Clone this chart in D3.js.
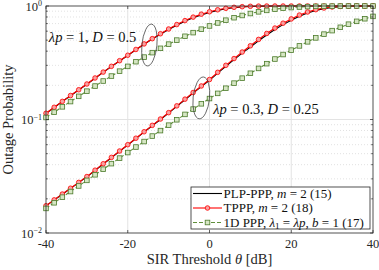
<!DOCTYPE html>
<html>
<head>
<meta charset="utf-8">
<script src="https://cdn.jsdelivr.net/npm/d3@7"></script>
<style>
  body { margin: 0; background: #fff; }
  svg { display: block; font-family: 'Liberation Serif', 'DejaVu Serif', serif; }
</style>
</head>
<body>
<svg id="chart" width="379" height="270"></svg>
<script>
// SIR threshold in dB, one point every 2 dB
var theta = [-40, -38, -36, -34, -32, -30, -28, -26, -24, -22, -20, -18, -16, -14, -12, -10,
  -8, -6, -4, -2, 0, 2, 4, 6, 8, 10, 12, 14, 16, 18, 20, 22, 24, 26, 28, 30, 32, 34, 36, 38, 40];

// lambda p = 1, D = 0.5
var plpHigh = [0.1130, 0.1276, 0.1439, 0.1620, 0.1821, 0.2047, 0.2312, 0.2605, 0.2927, 0.3280,
  0.3662, 0.4115, 0.4600, 0.5112, 0.5645, 0.6205, 0.6780, 0.7340, 0.7870, 0.8355, 0.8780,
  0.9150, 0.9445, 0.9660, 0.9805, 0.9895, 0.9950, 0.9978, 0.9991, 0.9997, 0.9999,
  1, 1, 1, 1, 1, 1, 1, 1, 1, 1];
var tpppHigh = [0.1135, 0.1281, 0.1444, 0.1626, 0.1828, 0.2055, 0.2322, 0.2617, 0.2941, 0.3297,
  0.3682, 0.4141, 0.4633, 0.5154, 0.5697, 0.6271, 0.6862, 0.7436, 0.7981, 0.8473, 0.8901,
  0.9262, 0.9539, 0.9735, 0.9862, 0.9936, 0.9975, 0.9991, 0.9997, 0.9999,
  1, 1, 1, 1, 1, 1, 1, 1, 1, 1, 1];
var ppp1dHigh = [0.1042, 0.1161, 0.1293, 0.1439, 0.1600, 0.1777, 0.1971, 0.2183, 0.2414, 0.2666,
  0.2938, 0.3231, 0.3546, 0.3882, 0.4238, 0.4613, 0.5005, 0.5410, 0.5826, 0.6248, 0.6671,
  0.7089, 0.7497, 0.7887, 0.8251, 0.8586, 0.8886, 0.9148, 0.9369, 0.9549, 0.9691,
  0.9798, 0.9875, 0.9927, 0.9960, 0.9979, 0.9990, 0.9996, 0.9998, 0.9999, 1];

// lambda p = 0.3, D = 0.25
var plpLow = [0.01735, 0.01952, 0.02195, 0.02470, 0.02778, 0.03126, 0.03556, 0.04050, 0.04608, 0.05240,
  0.05955, 0.06790, 0.07735, 0.08805, 0.1001, 0.1138, 0.1305, 0.1494, 0.1707, 0.1948, 0.2215,
  0.2560, 0.2945, 0.3370, 0.3840, 0.4345, 0.4935, 0.5560, 0.6205, 0.6855, 0.7490,
  0.8120, 0.8675, 0.9130, 0.9480, 0.9715, 0.9865, 0.9945, 0.9982, 0.9995, 0.9999];
var tpppLow = [0.01739, 0.01958, 0.02203, 0.02481, 0.02791, 0.03142, 0.03576, 0.04074, 0.04637, 0.05276,
  0.05998, 0.06842, 0.07797, 0.08881, 0.1010, 0.1149, 0.1319, 0.1511, 0.1729, 0.1975, 0.2250,
  0.2604, 0.3002, 0.3443, 0.3931, 0.4461, 0.5078, 0.5727, 0.6393, 0.7057, 0.7694,
  0.8322, 0.8859, 0.9286, 0.9597, 0.9798, 0.9918, 0.9973, 0.9993, 0.9999, 1];
var ppp1dLow = [0.01646, 0.01846, 0.02068, 0.02319, 0.02597, 0.02908, 0.03258, 0.03649, 0.04084, 0.04570,
  0.05114, 0.05720, 0.06395, 0.07147, 0.07983, 0.08912, 0.09945, 0.1109, 0.1235, 0.1375, 0.1530,
  0.1699, 0.1886, 0.2091, 0.2313, 0.2555, 0.2819, 0.3104, 0.3410, 0.3736, 0.4084,
  0.4451, 0.4836, 0.5236, 0.5648, 0.6068, 0.6492, 0.6912, 0.7325, 0.7723, 0.8099];

var xTicks = [-40, -20, 0, 20, 40];
var yTicks = [0.01, 0.1, 1];
var yTickExp = ['\u22122', '\u22121', '0'];

// where the two parameter sets are pointed at: [theta, probability]
var ringHigh = [-14.7, 0.453];
var ringLow = [-2, 0.155];
var labelHigh = [-39.3, 0.482];
var labelLow = [0.9, 0.112];

var legendLabels = [
  ['PLP-PPP, ', ['m', 'i'], ' = 2 (15)'],
  ['TPPP, ', ['m', 'i'], ' = 2 (18)'],
  ['1D PPP, ', ['\u03bb', 'i'], ['1', 'sub'], ' = ', ['\u03bbp', 'i'], ', ', ['b', 'i'], ' = 1 (17)']
];

var margin = { top: 6, right: 6, bottom: 37, left: 46 };
var width = 379 - margin.left - margin.right;
var height = 270 - margin.top - margin.bottom;

var red = '#ff0000';
var green = '#5f8f3a';
var greenEdge = '#4b7a2a';

var svg = d3.select('#chart');
var g = svg.append('g').attr('transform', 'translate(' + margin.left + ',' + margin.top + ')');

var x = d3.scaleLinear().domain([-40, 40]).range([0, width]);
var y = d3.scaleLog().domain([0.01, 1]).range([height, 0]);

// grid
var minor = [];
[0.01, 0.1].forEach(function (dec) {
  for (var k = 2; k <= 9; k++) minor.push(dec * k);
});

g.append('g').selectAll('line').data(minor).enter().append('line')
  .attr('x1', 0).attr('x2', width)
  .attr('y1', y).attr('y2', y)
  .attr('stroke', '#cfcfcf').attr('stroke-width', 0.6).attr('stroke-dasharray', '1,2');

g.append('g').selectAll('line').data([0.1]).enter().append('line')
  .attr('x1', 0).attr('x2', width)
  .attr('y1', y).attr('y2', y)
  .attr('stroke', '#e3e3e3').attr('stroke-width', 1);

g.append('g').selectAll('line').data([-20, 0, 20]).enter().append('line')
  .attr('x1', x).attr('x2', x)
  .attr('y1', 0).attr('y2', height)
  .attr('stroke', '#e3e3e3').attr('stroke-width', 1);

// curves
var plot = g.append('g');

function pairs (vals) {
  return theta.map(function (t, i) { return [t, vals[i]]; });
}

var line = d3.line()
  .x(function (d) { return x(d[0]); })
  .y(function (d) { return y(d[1]); });

function drawBlack (vals) {
  plot.append('path').datum(pairs(vals))
    .attr('d', line).attr('fill', 'none')
    .attr('stroke', '#000').attr('stroke-width', 1.1);
}

function drawRed (vals) {
  plot.append('path').datum(pairs(vals))
    .attr('d', line).attr('fill', 'none')
    .attr('stroke', red).attr('stroke-width', 1.1);
  plot.append('g').selectAll('circle').data(pairs(vals)).enter().append('circle')
    .attr('cx', function (d) { return x(d[0]); })
    .attr('cy', function (d) { return y(d[1]); })
    .attr('r', 2.3)
    .attr('fill', '#f7a3a3').attr('stroke', red).attr('stroke-width', 0.8);
}

function drawGreen (vals) {
  plot.append('path').datum(pairs(vals))
    .attr('d', line).attr('fill', 'none')
    .attr('stroke', green).attr('stroke-width', 1.1).attr('stroke-dasharray', '4,2');
  plot.append('g').selectAll('rect').data(pairs(vals)).enter().append('rect')
    .attr('x', function (d) { return x(d[0]) - 2.3; })
    .attr('y', function (d) { return y(d[1]) - 2.3; })
    .attr('width', 4.6).attr('height', 4.6)
    .attr('fill', '#d6e6c4').attr('stroke', greenEdge).attr('stroke-width', 0.8);
}

drawBlack(plpHigh);
drawBlack(plpLow);
drawRed(tpppHigh);
drawRed(tpppLow);
drawGreen(ppp1dHigh);
drawGreen(ppp1dLow);

// rings around the curve groups
[[ringHigh, 7.5, 21], [ringLow, 8.2, 21]].forEach(function (r) {
  g.append('ellipse')
    .attr('transform', 'translate(' + x(r[0][0]) + ',' + y(r[0][1]) + ') rotate(6)')
    .attr('rx', r[1]).attr('ry', r[2])
    .attr('fill', 'none').attr('stroke', '#333').attr('stroke-width', 0.7);
});

function richText (sel, parts) {
  var shifted = false;
  parts.forEach(function (p) {
    var txt = typeof p === 'string' ? p : p[0];
    var kind = typeof p === 'string' ? '' : p[1];
    var t = sel.append('tspan').text(txt);
    if (kind === 'i') t.attr('font-style', 'italic');
    if (kind === 'sub') {
      t.attr('font-size', '0.7em').attr('dy', 2.5);
      shifted = true;
    } else if (shifted) {
      t.attr('dy', -2.5);
      shifted = false;
    }
  });
}

function noteText (pos, parts) {
  var t = g.append('text')
    .attr('x', x(pos[0])).attr('y', y(pos[1]))
    .attr('font-size', 14.5).attr('fill', '#111')
    .style('white-space', 'pre');
  richText(t, parts);
}

noteText(labelHigh, [['\u03bbp', 'i'], ' = 1, ', ['D', 'i'], ' = 0.5']);
noteText(labelLow, [['\u03bbp', 'i'], ' = 0.3, ', ['D', 'i'], ' = 0.25']);

// axes box and ticks
g.append('rect')
  .attr('width', width).attr('height', height)
  .attr('fill', 'none').attr('stroke', '#262626').attr('stroke-width', 0.8);

var ticks = g.append('g').attr('stroke', '#262626').attr('stroke-width', 0.7);
xTicks.forEach(function (t) {
  ticks.append('line').attr('x1', x(t)).attr('x2', x(t)).attr('y1', height).attr('y2', height - 3);
  ticks.append('line').attr('x1', x(t)).attr('x2', x(t)).attr('y1', 0).attr('y2', 3);
});
yTicks.forEach(function (t) {
  ticks.append('line').attr('x1', 0).attr('x2', 3).attr('y1', y(t)).attr('y2', y(t));
  ticks.append('line').attr('x1', width).attr('x2', width - 3).attr('y1', y(t)).attr('y2', y(t));
});
minor.forEach(function (t) {
  ticks.append('line').attr('x1', 0).attr('x2', 1.8).attr('y1', y(t)).attr('y2', y(t));
  ticks.append('line').attr('x1', width).attr('x2', width - 1.8).attr('y1', y(t)).attr('y2', y(t));
});

g.append('g').selectAll('text').data(xTicks).enter().append('text')
  .attr('x', x).attr('y', height + 15)
  .attr('text-anchor', 'middle').attr('font-size', 12.5).attr('fill', '#262626')
  .text(function (d) { return d; });

var yLab = g.append('g').selectAll('text').data(yTicks).enter().append('text')
  .attr('x', -4).attr('y', function (d) { return y(d) + 4.5; })
  .attr('text-anchor', 'end').attr('font-size', 12.5).attr('fill', '#262626');
yLab.append('tspan').text('10');
yLab.append('tspan').attr('font-size', 8).attr('dy', -4.5)
  .text(function (d, i) { return yTickExp[i]; });

// axis titles
svg.append('text')
  .attr('x', margin.left + width / 2).attr('y', 264)
  .attr('text-anchor', 'middle').attr('font-size', 14.5).attr('fill', '#262626')
  .call(richText, ['SIR Threshold ', ['\u03b8', 'i'], ' [dB]']);

svg.append('text')
  .attr('transform', 'translate(13,' + (margin.top + height / 2) + ') rotate(-90)')
  .attr('text-anchor', 'middle').attr('font-size', 14.5).attr('fill', '#262626')
  .text('Outage Probability');

// legend
var lg = svg.append('g').attr('transform', 'translate(191,187)');
lg.append('rect').attr('width', 179).attr('height', 42)
  .attr('fill', '#fff').attr('stroke', '#262626').attr('stroke-width', 0.8);

var rowY = [6.5, 21, 35.5];
legendLabels.forEach(function (parts, i) {
  var row = lg.append('g').attr('transform', 'translate(0,' + rowY[i] + ')');
  if (i === 0) {
    row.append('line').attr('x1', 2).attr('x2', 31).attr('stroke', '#000').attr('stroke-width', 1.1);
  } else if (i === 1) {
    row.append('line').attr('x1', 2).attr('x2', 31).attr('stroke', red).attr('stroke-width', 1.1);
    row.append('circle').attr('cx', 16.5).attr('r', 2.3)
      .attr('fill', '#f7a3a3').attr('stroke', red).attr('stroke-width', 0.8);
  } else {
    row.append('line').attr('x1', 2).attr('x2', 31).attr('stroke', green)
      .attr('stroke-width', 1.1).attr('stroke-dasharray', '4,2');
    row.append('rect').attr('x', 14.2).attr('y', -2.3).attr('width', 4.6).attr('height', 4.6)
      .attr('fill', '#d6e6c4').attr('stroke', greenEdge).attr('stroke-width', 0.8);
  }
  var t = row.append('text').attr('x', 32.5).attr('y', 4)
    .attr('font-size', 13).attr('fill', '#111').style('white-space', 'pre');
  richText(t, parts);
});
</script>
</body>
</html>
